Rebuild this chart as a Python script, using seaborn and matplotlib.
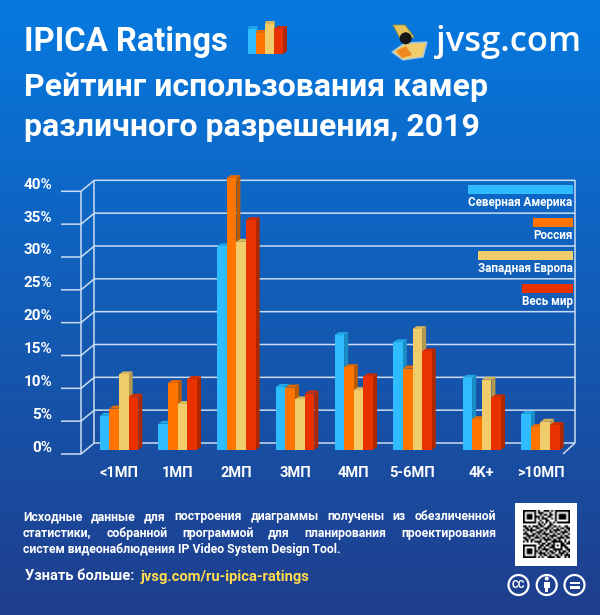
import matplotlib
matplotlib.use('Agg')
import matplotlib.pyplot as plt
import seaborn as sns
import numpy as np
import pandas as pd
from matplotlib.patches import Circle, Polygon, Rectangle
from matplotlib.transforms import Affine2D

# chart data
resolutions = ['<1МП', '1МП', '2МП', '3МП', '4МП', '5-6МП', '4K+', '>10МП']
north_america = [5.2, 4.0, 31.0, 9.6, 17.5, 16.4, 11.0, 5.5]
russia = [6.3, 10.2, 41.4, 9.5, 12.6, 12.4, 4.7, 3.5]
west_europe = [11.5, 7.0, 31.7, 7.7, 9.1, 18.4, 10.7, 4.3]
world = [8.1, 10.8, 35.0, 8.6, 11.2, 15.0, 8.0, 3.8]

regions = ['Северная Америка', 'Россия', 'Западная Европа', 'Весь мир']
y_ticks = [0, 5, 10, 15, 20, 25, 30, 35, 40]

# face colours of the 3d bars
front_colors = ['#2ebcff', '#ff7500', '#f0cc6a', '#ea3200']
side_colors = ['#1a8cc4', '#bd5a00', '#b39a4e', '#ad2800']
top_colors = ['#1fa6e6', '#e56a00', '#d9b85c', '#cf2d00']

text_lines = ['Исходные данные для построения диаграммы получены из обезличенной',
              'статистики, собранной программой для планирования проектирования',
              'систем видеонаблюдения IP Video System Design Tool.']

# small hand typed look-alike of the QR code
qr_rows = [
    '1111111010011101011111111',
    '1000001011100010010000001',
    '1011101001011011010111101',
    '1011101110100110010111101',
    '1011101010111001010111101',
    '1000001001001100010000001',
    '1111111010101010101111111',
    '0000000011010011000000000',
    '1101011101100110110100110',
    '0110100110011101001011011',
    '1011111001101010111100101',
    '0100100111010011010011110',
    '1110011010111100101101001',
    '0011110101001011110010110',
    '1101001110110101001111011',
    '0110110001011110110100100',
    '1010101111001001111110101',
    '0000000010110110100011011',
    '1111111001101101101011100',
    '1000001011010011100010110',
    '1011101010111100111110011',
    '1011101101001011010101101',
    '1011101011110101100111010',
    '1000001001011010011010111',
    '1111111010100111101100101',
]

PX = 1 / 100
W, H = 600, 615
GROUP_STEP = 58.7     # pixels between groups
PCT_STEP = 6.567      # pixels per percent
BASE_Y = 450          # pixel row of 0% on the bar plane
FIRST_X = 119         # pixel column of the first group


def box(ax, x0, x1, y0, y1, dx, dy, colors, z):
    """Front, side and top of a small 3d bar."""
    ax.add_patch(Polygon([(x1, y0), (x1 + dx, y0 + dy), (x1 + dx, y1 + dy), (x1, y1)],
                         fc=colors[1], ec='none', zorder=z, clip_on=False))
    ax.add_patch(Polygon([(x0, y1), (x1, y1), (x1 + dx, y1 + dy), (x0 + dx, y1 + dy)],
                         fc=colors[2], ec='none', zorder=z, clip_on=False))
    ax.add_patch(Rectangle((x0, y0), x1 - x0, y1 - y0, fc=colors[0], ec='none',
                           zorder=z, clip_on=False))


sns.set_theme(style='white')
plt.rcParams['font.family'] = ['Roboto', 'DejaVu Sans']

fig = plt.figure(figsize=(W * PX, H * PX), dpi=100)

# background layer, its coordinates are image pixels
bg = fig.add_axes([0, 0, 1, 1])
bg.axis('off')
top_rgb = np.array([6, 122, 224]) / 255
bottom_rgb = np.array([31, 62, 140]) / 255
ramp = np.linspace(0, 1, H)[:, None, None]
bg.imshow(top_rgb + (bottom_rgb - top_rgb) * ramp, extent=(0, W, H, 0), aspect='auto', zorder=0)

# 3d frame of the chart
line_kw = dict(color='#cbdcf2', lw=1.1, zorder=1, solid_capstyle='butt')
for tick in y_ticks:
    row = BASE_Y - tick * PCT_STEP
    bg.plot([61, 81, 94.3, 575], [row + 4, row + 4, row - 7, row - 7], **line_kw)
bg.plot([81, 81], [BASE_Y - 40 * PCT_STEP + 4, BASE_Y + 4], **line_kw)
bg.plot([94.3, 94.3], [BASE_Y - 40 * PCT_STEP - 7, BASE_Y - 7], **line_kw)
bg.plot([575, 575], [BASE_Y - 40 * PCT_STEP - 7, BASE_Y - 7], **line_kw)
bg.plot([563, 575], [BASE_Y + 4, BASE_Y - 7], **line_kw)

# bars
df = pd.DataFrame({
    'resolution': resolutions * 4,
    'region': np.repeat(regions, len(resolutions)),
    'value': north_america + russia + west_europe + world,
})
group_x = np.arange(len(resolutions), dtype=float)
group_x[6:] += 0.18    # the last two groups stand a bit apart
df['x'] = np.tile(group_x, 4)

ax = fig.add_axes([81 / W, 1 - BASE_Y / H, (575 - 81) / W, 40 * PCT_STEP / H])
ax.patch.set_alpha(0)
sns.barplot(data=df, x='x', y='value', hue='region', hue_order=regions, palette=front_colors,
            native_scale=True, width=0.656, saturation=1, legend=False, ax=ax)
ax.set_xlim((81 - FIRST_X) / GROUP_STEP, (575 - FIRST_X) / GROUP_STEP)
ax.set_ylim(0, 40)
ax.set_xlabel('')
ax.set_ylabel('')
sns.despine(ax=ax, left=True, bottom=True)
ax.grid(False)

ax.set_yticks(y_ticks, [f'{t}%' for t in y_ticks])
ax.set_xticks(group_x, resolutions)
ax.tick_params(axis='y', length=0, pad=20.5, labelsize=11, labelcolor='white')
ax.tick_params(axis='x', length=0, pad=11.5, labelsize=10.5, labelcolor='white')
for label in ax.get_yticklabels():
    label.set_fontweight('bold')
    label.set_transform(label.get_transform() + Affine2D().translate(0, 4))
for label in ax.get_xticklabels():
    label.set_fontweight('bold')

# turn the flat seaborn bars into boxes, left to right so neighbours overlap
bars = [p for p in ax.patches if p.get_height() > 0]
color_of = {matplotlib.colors.to_hex(c): i for i, c in enumerate(front_colors)}
for order, bar in enumerate(sorted(bars, key=lambda p: p.get_x())):
    k = color_of[matplotlib.colors.to_hex(bar.get_facecolor())]
    x0, x1 = bar.get_x(), bar.get_x() + bar.get_width()
    bar.set_visible(False)
    box(ax, x0, x1, 0, bar.get_height(), 4 / GROUP_STEP, 3 / PCT_STEP,
        (front_colors[k], side_colors[k], top_colors[k]), 3 + order * 0.01)

# legend, swatch width follows the label width
renderer = fig.canvas.get_renderer()
for i, name in enumerate(regions):
    row = 185 + i * 33
    t = bg.text(572.7, row + 17.7, name, ha='right', va='center', color='white',
                fontsize=8.4, fontweight='bold', zorder=5)
    width = t.get_window_extent(renderer).width
    bg.add_patch(Rectangle((572.7 - width, row), width, 9.3, fc=front_colors[i], ec='none', zorder=5))

# header
bg.text(24, 42, 'IPICA Ratings', color='white', fontsize=23.6, fontweight='bold', va='center')
bg.text(436, 42, 'jvsg.com', color='white', fontsize=24.8, fontweight='semibold', va='center', family='Open Sans')
bg.text(24, 87, 'Рейтинг использования камер', color='white', fontsize=23, fontweight='bold', va='center')
bg.text(24, 127, 'различного разрешения, 2019', color='white', fontsize=23, fontweight='bold', va='center')

# bar icon next to the title
icon_x = [248, 256, 265, 274]
icon_tops = [29, 33, 24, 29]
for i in range(4):
    box(bg, icon_x[i], icon_x[i] + 9, 54, icon_tops[i], 4 if i == 3 else 1, -3,
        (front_colors[i], side_colors[i], top_colors[i]), 2 + i)

# camera icon
bg.add_patch(Polygon([(392, 52), (405, 43), (427, 42), (423, 57), (403, 60)], fc='#f0cc6a', ec='#9fc6e8', lw=1, zorder=2))
bg.add_patch(Polygon([(396, 51), (406, 46), (412, 55), (402, 58)], fc='#f08a20', ec='none', zorder=3))
bg.add_patch(Polygon([(393, 25), (405, 25), (414, 37), (402, 42)], fc='#e4c35a', ec='#a08a3a', lw=0.6, zorder=3))
bg.add_patch(Circle((405.7, 38.3), 6, fc='#15151a', ec='none', zorder=4))

# footer text, justified by hand like the original
footer_size = 8.8
left, right = 23, 496
for i, line in enumerate(text_lines):
    row = [516.5, 533, 549.5][i]
    words = line.split(' ')
    if i == 2:
        bg.text(left, row, line, color='white', fontsize=footer_size, fontweight='bold', va='center')
        continue
    items = [bg.text(left, row, w, color='white', fontsize=footer_size, fontweight='bold', va='center') for w in words]
    widths = [it.get_window_extent(renderer).width for it in items]
    gap = (right - left - sum(widths)) / (len(words) - 1)
    x = left
    for it, w in zip(items, widths):
        it.set_x(x)
        x += w + gap

bg.text(25, 576.5, 'Узнать больше:', color='white', fontsize=10.5, fontweight='bold', va='center')
bg.text(141, 576.5, 'jvsg.com/ru-ipica-ratings', color='#ffdb4d', fontsize=10.6, fontweight='bold', va='center')

# QR code
bg.add_patch(Rectangle((515, 503), 62, 63, fc='white', ec='none', zorder=2))
qr = np.array([[1 - int(c) for c in r] for r in qr_rows], dtype=float)
bg.imshow(qr, cmap='gray', vmin=0, vmax=1, extent=(522.5, 569, 558, 510), aspect='auto',
          interpolation='bilinear', zorder=3)
bg.set_xlim(0, W)
bg.set_ylim(H, 0)

# creative commons badges
for cx in [518.5, 546.7, 574.5]:
    bg.add_patch(Circle((cx, 585), 10, fc='none', ec='white', lw=1.6, zorder=3))
bg.text(518.5, 584.5, 'CC', color='white', fontsize=7.5, fontweight='bold', ha='center', va='center', zorder=3)
bg.add_patch(Circle((546.7, 578.5), 2, fc='white', ec='none', zorder=3))
bg.add_patch(Rectangle((543.5, 581.5), 6.4, 6, fc='white', ec='none', zorder=3))
bg.add_patch(Rectangle((545, 587), 3.4, 5, fc='white', ec='none', zorder=3))
bg.add_patch(Rectangle((569.5, 581.5), 10, 2.2, fc='white', ec='none', zorder=3))
bg.add_patch(Rectangle((569.5, 586.3), 10, 2.2, fc='white', ec='none', zorder=3))

fig.savefig('out.png', dpi=100)
plt.close(fig)
